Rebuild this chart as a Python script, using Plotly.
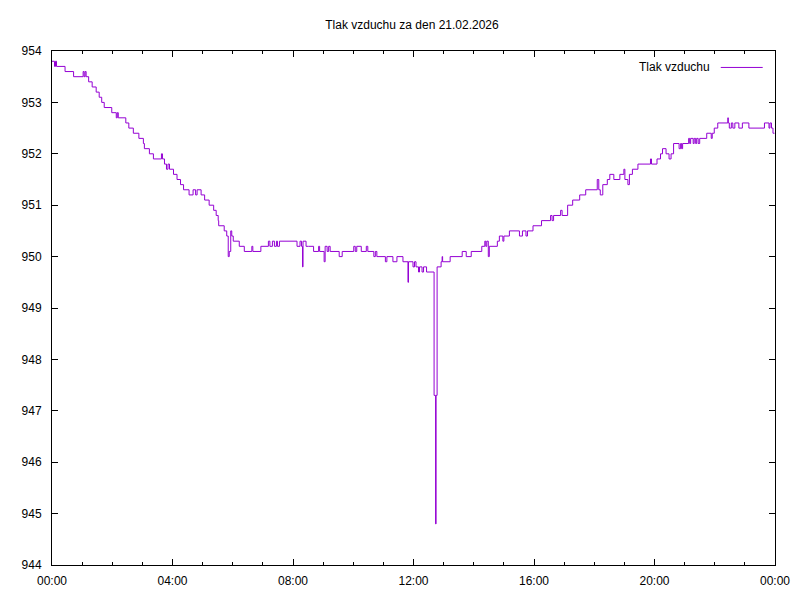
import plotly.graph_objects as go
import pandas as pd

# tlak vzduchu - casy (HH:MM) a hodnoty v hPa
times = [
    "00:00", "00:05", "00:07", "00:09", "00:26", "00:43", "01:02", "01:04", "01:06", "01:08",
    "01:13", "01:20", "01:28", "01:34", "01:39", "01:44", "01:59", "02:08", "02:10", "02:12",
    "02:27", "02:33", "02:42", "02:53", "03:02", "03:04", "03:14", "03:22", "03:38", "03:40",
    "03:44", "03:48", "03:51", "03:54", "04:02", "04:09", "04:16", "04:22", "04:33", "04:41",
    "04:46", "04:49", "04:57", "05:04", "05:13", "05:22", "05:27", "05:31", "05:32", "05:43",
    "05:48", "05:51", "05:53", "05:56", "05:58", "06:01", "06:13", "06:23", "06:38", "06:40",
    "06:56", "07:11", "07:14", "07:19", "07:23", "07:27", "07:29", "07:33", "08:08", "08:14",
    "08:17", "08:19", "08:20", "08:26", "08:31", "08:41", "08:51", "08:53", "09:02", "09:04",
    "09:08", "09:11", "09:14", "09:32", "09:38", "10:01", "10:04", "10:07", "10:16", "10:26",
    "10:29", "10:41", "10:44", "10:47", "11:04", "11:07", "11:19", "11:27", "11:39", "11:49",
    "11:50", "11:59", "12:02", "12:05", "12:10", "12:12", "12:17", "12:20", "12:26", "12:41",
    "12:44", "12:45", "12:47", "12:55", "12:57", "12:58", "13:13", "13:37", "13:45", "13:55",
    "14:16", "14:22", "14:24", "14:26", "14:29", "14:31", "14:47", "14:51", "14:58", "15:00",
    "15:11", "15:31", "15:37", "15:44", "15:47", "15:58", "16:15", "16:33", "16:36", "16:39",
    "16:53", "16:56", "17:07", "17:17", "17:31", "17:43", "18:06", "18:09", "18:12", "18:17",
    "18:26", "18:31", "18:39", "18:51", "18:59", "19:01", "19:07", "19:10", "19:16", "19:27",
    "19:52", "19:54", "20:05", "20:12", "20:16", "20:23", "20:29", "20:33", "20:38", "20:49",
    "20:52", "20:54", "20:56", "21:08", "21:10", "21:12", "21:17", "21:19", "21:22", "21:24",
    "21:27", "21:30", "21:44", "21:53", "21:55", "21:59", "22:06", "22:26", "22:27", "22:29",
    "22:33", "22:36", "22:40", "22:48", "22:55", "23:08", "23:39", "23:48", "23:50", "23:53",
    "23:56", "23:59",
]
pressure = [
    953.8, 953.7, 953.8, 953.7, 953.6, 953.5, 953.6, 953.5, 953.6, 953.5,
    953.4, 953.3, 953.2, 953.1, 953.0, 952.9, 952.8, 952.7, 952.8, 952.7,
    952.6, 952.5, 952.4, 952.3, 952.2, 952.1, 952.0, 951.9, 952.0, 951.9,
    951.8, 951.7, 951.8, 951.7, 951.6, 951.5, 951.4, 951.3, 951.2, 951.3,
    951.2, 951.3, 951.2, 951.1, 951.0, 950.9, 950.8, 950.7, 950.6, 950.5,
    950.4, 950.0, 950.1, 950.5, 950.4, 950.3, 950.2, 950.1, 950.2, 950.1,
    950.2, 950.3, 950.2, 950.3, 950.2, 950.3, 950.2, 950.3, 950.2, 950.3,
    950.2, 949.8, 950.3, 950.2, 950.2, 950.1, 950.2, 950.1, 949.9, 950.2,
    950.1, 950.2, 950.1, 950.0, 950.1, 950.2, 950.1, 950.2, 950.1, 950.2,
    950.1, 950.0, 950.1, 950.0, 949.9, 950.0, 949.9, 950.0, 949.9, 949.5,
    949.9, 949.8, 949.9, 949.8, 949.7, 949.8, 949.7, 949.8, 949.7, 947.3,
    944.8, 947.3, 949.8, 949.9, 950.0, 949.9, 950.0, 950.1, 950.0, 950.1,
    950.2, 950.3, 950.2, 950.3, 950.0, 950.2, 950.3, 950.4, 950.3, 950.4,
    950.5, 950.4, 950.5, 950.4, 950.5, 950.6, 950.7, 950.8, 950.7, 950.8,
    950.9, 950.8, 951.0, 951.1, 951.2, 951.3, 951.5, 951.3, 951.2, 951.4,
    951.5, 951.6, 951.5, 951.6, 951.7, 951.5, 951.4, 951.6, 951.7, 951.8,
    951.9, 951.8, 951.9, 952.0, 952.1, 952.0, 951.9, 952.0, 952.2, 952.1,
    952.2, 952.1, 952.2, 952.3, 952.2, 952.3, 952.2, 952.3, 952.2, 952.3,
    952.2, 952.3, 952.4, 952.3, 952.4, 952.5, 952.6, 952.7, 952.6, 952.5,
    952.6, 952.5, 952.6, 952.5, 952.6, 952.5, 952.6, 952.5, 952.6, 952.5,
    952.4, 952.4,
]

day = pd.Timestamp("2026-02-21")
x = [day + pd.Timedelta(hours=int(t[:2]), minutes=int(t[3:])) for t in times]

fig = go.Figure()
fig.add_trace(go.Scatter(x=x, y=pressure, mode="lines", line_shape="hv",
                         line=dict(color="#9400D3", width=1),
                         name="Tlak vzduchu", showlegend=False))

axis_style = dict(showline=True, linecolor="black", linewidth=1, mirror="allticks",
                  ticks="inside", ticklen=6, tickcolor="black", showgrid=False,
                  zeroline=False, tickfont=dict(family="Liberation Sans", size=12, color="black"))

fig.update_xaxes(range=[day, day + pd.Timedelta(days=1)], tickformat="%H:%M",
                 dtick=4 * 3600 * 1000, tick0=day, ticklabelstandoff=5,
                 minor=dict(ticks="inside", ticklen=3, dtick=3600 * 1000, tickcolor="black"),
                 **axis_style)
fig.update_yaxes(range=[944, 954], dtick=1, ticklabelstandoff=7, **axis_style)

# legenda ve stylu gnuplotu: text vlevo, ukazka cary vpravo
fig.add_annotation(text="Tlak vzduchu", xref="paper", yref="paper", x=0.9135, y=0.968,
                   xanchor="right", yanchor="middle", showarrow=False,
                   font=dict(family="Liberation Sans", size=12, color="black"))
fig.add_shape(type="line", xref="paper", yref="paper", x0=0.925, x1=0.983, y0=0.968, y1=0.968,
              line=dict(color="#9400D3", width=1))

# stranka ma okraj 8 px, proto posunute okraje
fig.update_layout(
    title=dict(text="Tlak vzduchu za den 21.02.2026", x=0.505, y=0.9717, xanchor="center",
               yanchor="middle", font=dict(family="Liberation Sans", size=12, color="black")),
    width=800, height=600,
    margin=dict(l=44, r=33, t=43, b=43),
    plot_bgcolor="white", paper_bgcolor="white",
)

fig.write_html("out.html")
